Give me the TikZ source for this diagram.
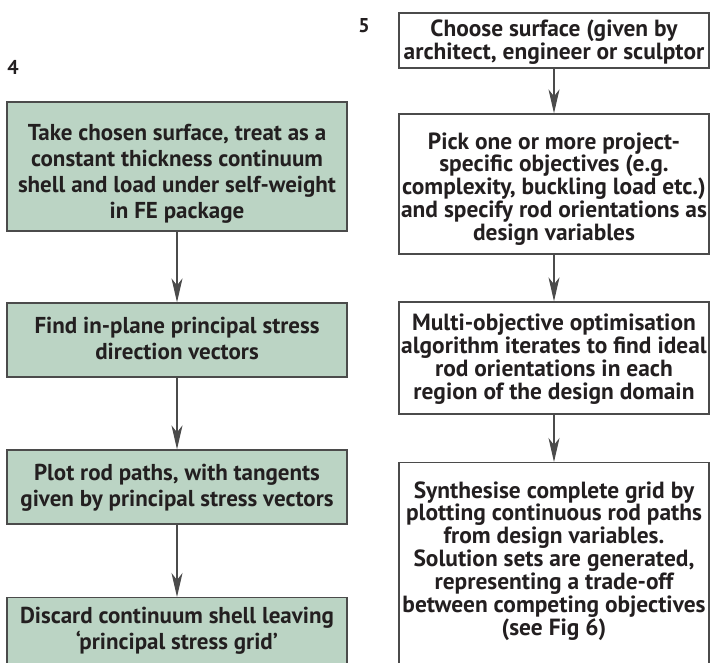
\documentclass[tikz,border=0pt]{standalone}
\usepackage{fontspec}
\setmainfont{PT Sans}
\usetikzlibrary{arrows.meta,positioning}
\definecolor{boxgreen}{RGB}{187,212,196}
\definecolor{ink}{RGB}{35,31,32}
\definecolor{edge}{RGB}{75,75,75}
\tikzset{
  greenbox/.style={draw=edge, line width=1.3pt, fill=boxgreen, minimum width=340, inner sep=0},
  whitebox/.style={draw=edge, line width=1.3pt, fill=white, minimum width=310, inner sep=0},
  ltxt/.style={text=ink, font=\bfseries\fontsize{23}{26}\selectfont, align=center, inner sep=0},
  rtxt/.style={text=ink, font=\bfseries\fontsize{23.4}{22.9}\selectfont, align=center, inner sep=0},
  flow/.style={draw=edge, line width=1.3pt, -{Stealth[length=24, width=11, inset=7]}},
  numlab/.style={text=ink, font=\bfseries\fontsize{20}{22}\selectfont, inner sep=0}
}
\begin{document}
\begin{tikzpicture}[x=1pt,y=-1pt]
\useasboundingbox (0,0) rectangle (710,663);
\clip (0,0) rectangle (710,663);
\fill[white] (0,0) rectangle (710,663);
% labels
\node[numlab] (n4) at (13,67) {4};
\node[numlab] (n5) at (364,26) {5};
% left column
\node[greenbox, minimum height=129] (l1) at (177,166.5) {};
\node[ltxt] (l1t) at (177,174) {Take chosen surface, treat as a\\constant thickness continuum\\shell and load under self-weight\\in FE package};
\node[greenbox, minimum height=74] (l2) at (177,340) {};
\node[ltxt] (l2t) at (177,338) {Find in-plane principal stress\\direction vectors};
\node[greenbox, minimum height=74] (l3) at (177,487) {};
\node[ltxt] (l3t) at (177,488) {Plot rod paths, with tangents\\given by principal stress vectors};
\node[greenbox, minimum height=100, anchor=north] (l4) at (177,597) {};
\node[ltxt] (l4t) at (177,631) {Discard continuum shell leaving\\‘principal stress grid’};
% right column
\node[whitebox, minimum height=55] (r1) at (554,40.5) {};
\node[rtxt] (r1t) at (554,42) {Choose surface (given by\\architect, engineer or sculptor};
\node[whitebox, minimum height=140] (r2) at (554,184) {};
\node[rtxt] (r2t) at (554,189) {Pick one or more project-\\specific objectives (e.g.\\complexity, buckling load etc.)\\and specify rod orientations as\\design variables};
\node[whitebox, minimum height=112] (r3) at (554,358) {};
\node[rtxt] (r3t) at (554,359) {Multi-objective optimisation\\algorithm iterates to find ideal\\rod orientations in each\\region of the design domain};
\node[whitebox, minimum height=240, anchor=north] (r4) at (554,462) {};
\node[rtxt] (r4t) at (554,561) {Synthesise complete grid by\\plotting continuous rod paths\\from design variables.\\Solution sets are generated,\\representing a trade-off\\between competing objectives\\(see Fig 6)};
% connectors
\draw[flow] (l1) -- (l2);
\draw[flow] (l2) -- (l3);
\draw[flow] (l3) -- (l4);
\draw[flow] (r1) -- (r2);
\draw[flow] (r2) -- (r3);
\draw[flow] (r3) -- (r4);
\end{tikzpicture}
\end{document}
